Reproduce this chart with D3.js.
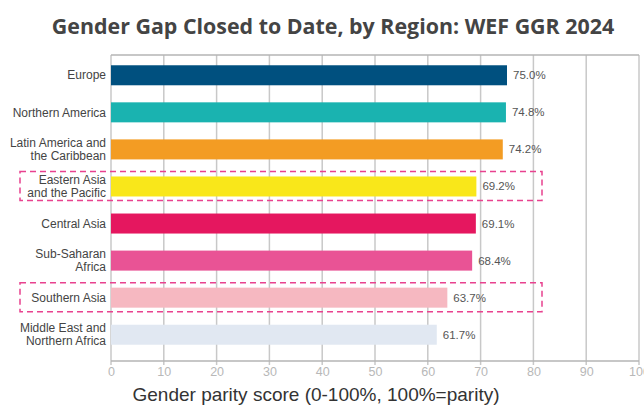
<!DOCTYPE html>
<html>
<head>
<meta charset="utf-8">
<script src="https://cdn.jsdelivr.net/npm/d3@7"></script>
<style>
  body { margin: 0; background: #fff; }
  svg { display: block; }
</style>
</head>
<body>
<svg id="chart"></svg>
<script>
// regions, top to bottom
const regions = [
    "Europe",
    "Northern America",
    "Latin America and|the Caribbean",
    "Eastern Asia|and the Pacific",
    "Central Asia",
    "Sub-Saharan|Africa",
    "Southern Asia",
    "Middle East and|Northern Africa"
];
// gender gap closed, percent
const scores = [75.0, 74.8, 74.2, 69.2, 69.1, 68.4, 63.7, 61.7];
const barColors = ["#00507f", "#1ab3b0", "#f39c23", "#f9e71a", "#e5175f", "#e95395", "#f6b8c1", "#e1e8f2"];
// regions outlined with a dashed box
const highlighted = ["Eastern Asia|and the Pacific", "Southern Asia"];
const xTicks = [0, 10, 20, 30, 40, 50, 60, 70, 80, 90, 100];

const width = 644, height = 405;
const margin = {top: 55, right: 5, bottom: 44, left: 111};

const svg = d3.select("#chart").attr("width", width).attr("height", height);

// title
svg.append("text")
    .attr("x", 333)
    .attr("y", 34)
    .attr("text-anchor", "middle")
    .style("font-family", "'Open Sans', sans-serif")
    .style("font-weight", "bold")
    .style("font-size", "21.4px")
    .style("fill", "#444")
    .text("Gender Gap Closed to Date, by Region: WEF GGR 2024");

const x = d3.scaleLinear().domain([0, 100]).range([margin.left, width - margin.right]);
const y = d3.scaleBand().domain(regions).range([margin.top + 1, height - margin.bottom - 7]).paddingInner(0.46).paddingOuter(0.25);
const bottom = height - margin.bottom;

// vertical gridlines
svg.append("g")
    .selectAll("line")
    .data(xTicks)
    .enter().append("line")
    .attr("x1", d => x(d)).attr("x2", d => x(d))
    .attr("y1", margin.top).attr("y2", bottom + 4)
    .style("stroke", "#c8c8c8")
    .style("stroke-width", 1.5);

// top frame line and bottom axis line
svg.append("line")
    .attr("x1", x(0)).attr("x2", x(100))
    .attr("y1", margin.top).attr("y2", margin.top)
    .style("stroke", "#b5b5b5").style("stroke-width", 1.5);
svg.append("line")
    .attr("x1", x(0)).attr("x2", x(100))
    .attr("y1", bottom).attr("y2", bottom)
    .style("stroke", "#b5b5b5").style("stroke-width", 1.5);

// x axis tick labels
const xAxis = d3.axisBottom(x).tickValues(xTicks).tickSize(0).tickPadding(4);
const gx = svg.append("g").attr("transform", "translate(0," + (bottom + 2) + ")").call(xAxis);
gx.select(".domain").remove();
gx.selectAll("text")
    .style("font-family", "'Liberation Sans', Arial, sans-serif")
    .style("font-size", "12.5px")
    .style("fill", "#b8b8b8");

// bars
const rows = regions.map((r, i) => ({region: r, score: scores[i], color: barColors[i]}));
svg.append("g")
    .selectAll("rect")
    .data(rows)
    .enter().append("rect")
    .attr("x", x(0))
    .attr("y", d => y(d.region))
    .attr("width", d => x(d.score) - x(0))
    .attr("height", y.bandwidth())
    .style("fill", d => d.color);

// value labels
svg.append("g")
    .selectAll("text")
    .data(rows)
    .enter().append("text")
    .attr("x", d => x(d.score) + 6)
    .attr("y", d => y(d.region) + y.bandwidth() / 2)
    .attr("dy", "0.35em")
    .style("font-family", "'Liberation Sans', Arial, sans-serif")
    .style("font-size", "11.5px")
    .style("fill", "#555")
    .text(d => d.score.toFixed(1) + "%");

// category labels, split over lines on "|"
const labels = svg.append("g")
    .selectAll("text")
    .data(rows)
    .enter().append("text")
    .attr("text-anchor", "end")
    .style("font-family", "'Liberation Sans', Arial, sans-serif")
    .style("font-size", "12px")
    .style("fill", "#444");
labels.each(function(d) {
    const parts = d.region.split("|");
    const cy = y(d.region) + y.bandwidth() / 2;
    const lh = 13;
    parts.forEach((p, k) => {
        d3.select(this).append("tspan")
            .attr("x", 106)
            .attr("y", cy + (k - (parts.length - 1) / 2) * lh)
            .attr("dy", "0.35em")
            .text(p);
    });
});

// dashed highlight boxes
svg.append("g")
    .selectAll("rect")
    .data(highlighted)
    .enter().append("rect")
    .attr("x", 20)
    .attr("y", d => y(d) - 5)
    .attr("width", 522)
    .attr("height", y.bandwidth() + 9)
    .style("fill", "none")
    .style("stroke", "#e8428f")
    .style("stroke-width", 1.5)
    .style("stroke-dasharray", "6,4");

// x axis title
svg.append("text")
    .attr("x", 316)
    .attr("y", 401)
    .attr("text-anchor", "middle")
    .style("font-family", "'Liberation Sans', Arial, sans-serif")
    .style("font-size", "19px")
    .style("fill", "#333")
    .text("Gender parity score (0-100%, 100%=parity)");
</script>
</body>
</html>
